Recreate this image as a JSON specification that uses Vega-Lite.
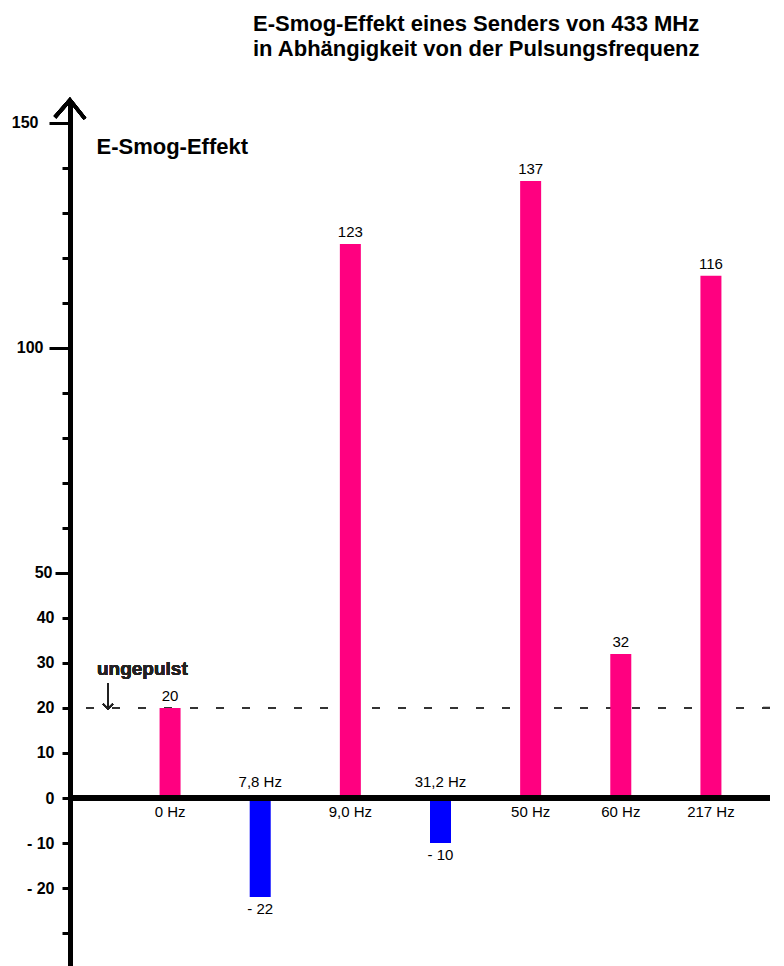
{
  "$schema": "https://vega.github.io/schema/vega-lite/v6.json",
  "width": 700,
  "height": 866,
  "autosize": "none",
  "padding": {"left": 70, "top": 100, "right": 14, "bottom": 0},
  "background": "white",
  "config": {"view": {"stroke": null}, "font": "Liberation Sans"},
  "title": {
    "text": ["E-Smog-Effekt eines Senders von 433 MHz", "in Abhängigkeit von der Pulsungsfrequenz"],
    "anchor": "start",
    "frame": "group",
    "dx": 183,
    "offset": 15,
    "fontSize": 22,
    "fontWeight": "bold",
    "font": "Liberation Sans",
    "lineHeight": 25,
    "baseline": "alphabetic",
    "color": "black"
  },
  "data": {
    "values": [
      {"freq": "0 Hz", "value": 20, "label": "20"},
      {"freq": "7,8 Hz", "value": -22, "label": "- 22"},
      {"freq": "9,0 Hz", "value": 123, "label": "123"},
      {"freq": "31,2 Hz", "value": -10, "label": "- 10"},
      {"freq": "50 Hz", "value": 137, "label": "137"},
      {"freq": "60 Hz", "value": 32, "label": "32"},
      {"freq": "217 Hz", "value": 116, "label": "116"}
    ]
  },
  "layer": [
    {
      "mark": {"type": "rule", "strokeDash": [8, 18], "strokeWidth": 2, "color": "#333333"},
      "encoding": {"y": {"datum": 20}}
    },
    {
      "mark": {"type": "bar", "width": 21},
      "encoding": {
        "x": {
          "field": "freq",
          "type": "nominal",
          "sort": null,
          "scale": {"range": [55, 686], "paddingInner": 0, "paddingOuter": 0},
          "axis": null
        },
        "y": {
          "field": "value",
          "type": "quantitative",
          "scale": {"domain": [-37.3, 155], "nice": false, "zero": false},
          "axis": {
            "values": [150, 140, 130, 120, 110, 100, 90, 80, 70, 60, 50, 40, 30, 20, 10, 0, -10, -20, -30],
            "labelExpr": "indexof([140,130,120,110,90,80,70,60,-30], datum.value) >= 0 ? '' : (datum.value < 0 ? '- ' + abs(datum.value) : datum.label)",
            "domainColor": "black",
            "domainWidth": 5,
            "tickColor": "black",
            "tickWidth": 3,
            "tickSize": {"condition": [{"test": "datum.value == 150 || datum.value == 100", "value": 21}, {"test": "datum.value == 50", "value": 15}], "value": 8},
            "labelPadding": {"condition": [{"test": "datum.value == 150", "value": 11}, {"test": "datum.value == 100", "value": 6}, {"test": "datum.value == 50", "value": 3}], "value": 8},
            "labelFontSize": 16,
            "labelFontWeight": "bold",
            "labelColor": "black",
            "labelFont": "Liberation Sans",
            "labelFlush": false,
            "labelOverlap": false,
            "labelBound": false,
            "grid": false,
            "title": "E-Smog-Effekt",
            "titleAngle": 0,
            "titleAlign": "left",
            "titleBaseline": "alphabetic",
            "titleX": 26,
            "titleY": 53,
            "titleFontSize": 22,
            "titleFontWeight": "bold",
            "titleColor": "black",
            "titleFont": "Liberation Sans"
          }
        },
        "color": {"condition": {"test": "datum.value < 0", "value": "#0000ff"}, "value": "#ff0080"}
      }
    },
    {
      "mark": {"type": "rule", "strokeWidth": 5, "color": "black"},
      "encoding": {"y": {"datum": 0}}
    },
    {
      "mark": {"type": "point", "shape": "M-1,1.15L0,0L1,1.25", "size": 900, "filled": false, "stroke": "black", "strokeWidth": 3.5, "opacity": 1, "clip": false},
      "encoding": {"x": {"datum": "0 Hz", "bandPosition": -0.611}, "y": {"datum": 155}}
    },
    {
      "transform": [{"filter": "datum.value >= 0"}],
      "mark": {"type": "text", "baseline": "alphabetic", "dy": -7, "fontSize": 15, "color": "black", "font": "Liberation Sans"},
      "encoding": {"x": {"field": "freq", "type": "nominal", "sort": null}, "y": {"field": "value", "type": "quantitative"}, "text": {"field": "label"}}
    },
    {
      "transform": [{"filter": "datum.value < 0"}],
      "mark": {"type": "text", "baseline": "top", "dy": 5, "fontSize": 15, "color": "black", "font": "Liberation Sans"},
      "encoding": {"x": {"field": "freq", "type": "nominal", "sort": null}, "y": {"field": "value", "type": "quantitative"}, "text": {"field": "label"}}
    },
    {
      "transform": [{"filter": "datum.value >= 0"}],
      "mark": {"type": "text", "baseline": "top", "dy": 7, "fontSize": 15, "color": "black", "font": "Liberation Sans"},
      "encoding": {"x": {"field": "freq", "type": "nominal", "sort": null}, "y": {"datum": 0}, "text": {"field": "freq"}}
    },
    {
      "transform": [{"filter": "datum.value < 0"}],
      "mark": {"type": "text", "baseline": "alphabetic", "dy": -11, "fontSize": 15, "color": "black", "font": "Liberation Sans"},
      "encoding": {"x": {"field": "freq", "type": "nominal", "sort": null}, "y": {"datum": 0}, "text": {"field": "freq"}}
    },
    {
      "mark": {"type": "text", "text": "ungepulst", "align": "left", "baseline": "alphabetic", "dy": -33, "fontSize": 19, "fontWeight": "bold", "color": "#222222", "font": "Liberation Sans"},
      "encoding": {"x": {"datum": "0 Hz", "bandPosition": -0.311}, "y": {"datum": 20}}
    },
    {
      "mark": {"type": "rule", "strokeWidth": 1.5, "color": "#222222"},
      "encoding": {"x": {"datum": "0 Hz", "bandPosition": -0.189}, "y": {"datum": 25.5}, "y2": {"datum": 19.8}}
    },
    {
      "mark": {"type": "point", "shape": "M-1,-1L0,0L1,-1", "size": 100, "filled": false, "stroke": "#222222", "strokeWidth": 1.5, "opacity": 1},
      "encoding": {"x": {"datum": "0 Hz", "bandPosition": -0.189}, "y": {"datum": 19.8}}
    }
  ]
}
